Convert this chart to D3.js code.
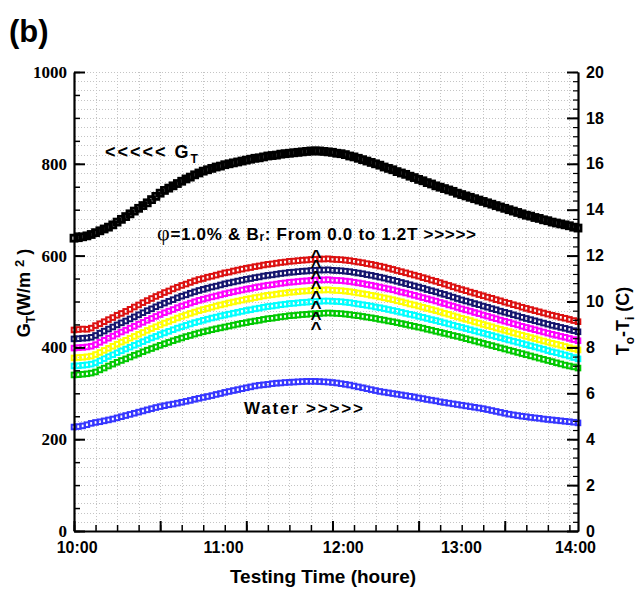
<!DOCTYPE html>
<html>
<head>
<meta charset="utf-8">
<script src="https://cdn.jsdelivr.net/npm/d3@7"></script>
<style>
body { margin: 0; background: #fff; }
</style>
</head>
<body>
<svg width="637" height="596"></svg>
<script>
var svg = d3.select("svg");

// x is the sample number along the test (one sample ~ every 2 min)
var timeLabels = ["10:00", "11:00", "12:00", "13:00", "14:00"];
var timeLabelAt = [0.6, 34.6, 62.4, 89.8, 116.3];

// solar radiation G_T (W/m2), left axis
var gT = [
  638, 639, 641, 643, 646, 650, 654, 658, 662, 667,
  673, 679, 685, 691, 697, 703, 709, 715, 722, 729,
  736, 742, 747, 752, 757, 762, 767, 771, 776, 780,
  784, 787, 790, 793, 795, 798, 800, 802, 804, 806,
  808, 810, 812, 813, 815, 817, 818, 819, 821, 822,
  823, 824, 825, 826, 827, 828, 828, 828, 827, 826,
  825, 823, 822, 820, 817, 815, 812, 809, 806, 803,
  800, 797, 793, 790, 787, 783, 780, 777, 773, 770,
  766, 763, 759, 756, 752, 749, 746, 743, 740, 736,
  733, 730, 727, 724, 721, 718, 715, 712, 709, 706,
  703, 700, 697, 694, 691, 688, 686, 683, 681, 678,
  676, 673, 671, 669, 667, 665, 662, 660
];

// To-Ti (C), right axis
var water = [
  4.53, 4.55, 4.58, 4.63, 4.69, 4.73, 4.76, 4.80, 4.84, 4.88,
  4.93, 4.98, 5.03, 5.08, 5.13, 5.18, 5.23, 5.28, 5.33, 5.38,
  5.42, 5.46, 5.50, 5.53, 5.57, 5.61, 5.65, 5.69, 5.74, 5.78,
  5.82, 5.86, 5.90, 5.95, 5.99, 6.04, 6.08, 6.12, 6.16, 6.20,
  6.24, 6.28, 6.32, 6.35, 6.37, 6.39, 6.42, 6.44, 6.45, 6.47,
  6.48, 6.49, 6.50, 6.51, 6.52, 6.52, 6.52, 6.51, 6.50, 6.49,
  6.47, 6.45, 6.42, 6.39, 6.36, 6.32, 6.28, 6.24, 6.20, 6.16,
  6.12, 6.08, 6.05, 6.02, 5.99, 5.96, 5.93, 5.90, 5.87, 5.84,
  5.80, 5.77, 5.73, 5.70, 5.67, 5.63, 5.60, 5.57, 5.54, 5.51,
  5.48, 5.45, 5.42, 5.39, 5.36, 5.33, 5.29, 5.25, 5.21, 5.17,
  5.13, 5.09, 5.06, 5.03, 5.00, 4.98, 4.95, 4.93, 4.91, 4.88,
  4.86, 4.84, 4.82, 4.80, 4.78, 4.76, 4.74, 4.71
];

var brGreen = [
  6.80, 6.81, 6.83, 6.85, 6.88, 6.93, 7.02, 7.10, 7.19, 7.27,
  7.35, 7.43, 7.50, 7.58, 7.66, 7.73, 7.81, 7.88, 7.95, 8.02,
  8.09, 8.16, 8.22, 8.29, 8.35, 8.41, 8.47, 8.52, 8.58, 8.63,
  8.68, 8.72, 8.77, 8.81, 8.85, 8.89, 8.93, 8.97, 9.01, 9.05,
  9.08, 9.12, 9.15, 9.18, 9.22, 9.25, 9.27, 9.30, 9.33, 9.35,
  9.38, 9.39, 9.41, 9.43, 9.44, 9.46, 9.47, 9.48, 9.49, 9.50,
  9.49, 9.48, 9.47, 9.45, 9.43, 9.40, 9.38, 9.35, 9.32, 9.29,
  9.26, 9.22, 9.19, 9.15, 9.12, 9.08, 9.04, 9.00, 8.96, 8.92,
  8.88, 8.84, 8.79, 8.75, 8.70, 8.66, 8.61, 8.57, 8.52, 8.48,
  8.43, 8.38, 8.33, 8.28, 8.23, 8.18, 8.13, 8.08, 8.03, 7.98,
  7.93, 7.88, 7.83, 7.78, 7.73, 7.68, 7.63, 7.58, 7.53, 7.48,
  7.43, 7.38, 7.33, 7.28, 7.23, 7.19, 7.15, 7.10
];

var brCyan = [
  7.19, 7.20, 7.22, 7.24, 7.27, 7.33, 7.42, 7.51, 7.60, 7.68,
  7.77, 7.85, 7.93, 8.01, 8.09, 8.17, 8.25, 8.33, 8.41, 8.48,
  8.56, 8.63, 8.70, 8.77, 8.84, 8.90, 8.96, 9.02, 9.08, 9.13,
  9.18, 9.23, 9.28, 9.32, 9.37, 9.41, 9.45, 9.49, 9.53, 9.57,
  9.61, 9.64, 9.68, 9.71, 9.75, 9.78, 9.80, 9.83, 9.86, 9.88,
  9.91, 9.92, 9.94, 9.96, 9.97, 9.99, 10.00, 10.01, 10.02, 10.02,
  10.01, 10.00, 9.99, 9.97, 9.95, 9.92, 9.89, 9.86, 9.83, 9.80,
  9.76, 9.73, 9.69, 9.65, 9.61, 9.57, 9.53, 9.48, 9.44, 9.40,
  9.35, 9.31, 9.26, 9.21, 9.17, 9.12, 9.07, 9.02, 8.97, 8.92,
  8.87, 8.82, 8.77, 8.72, 8.67, 8.62, 8.57, 8.52, 8.47, 8.42,
  8.37, 8.32, 8.27, 8.22, 8.17, 8.12, 8.07, 8.02, 7.97, 7.92,
  7.86, 7.81, 7.77, 7.72, 7.67, 7.62, 7.56, 7.50
];

var brYellow = [
  7.54, 7.56, 7.57, 7.59, 7.62, 7.69, 7.78, 7.87, 7.96, 8.05,
  8.14, 8.23, 8.31, 8.40, 8.48, 8.57, 8.65, 8.74, 8.82, 8.90,
  8.98, 9.06, 9.13, 9.20, 9.28, 9.35, 9.41, 9.48, 9.54, 9.60,
  9.65, 9.70, 9.75, 9.80, 9.85, 9.89, 9.94, 9.98, 10.02, 10.06,
  10.10, 10.13, 10.17, 10.20, 10.24, 10.27, 10.29, 10.32, 10.35, 10.37,
  10.40, 10.41, 10.43, 10.45, 10.46, 10.48, 10.49, 10.50, 10.50, 10.51,
  10.49, 10.48, 10.47, 10.45, 10.43, 10.40, 10.37, 10.34, 10.31, 10.27,
  10.24, 10.20, 10.16, 10.12, 10.08, 10.03, 9.99, 9.94, 9.89, 9.85,
  9.80, 9.75, 9.70, 9.65, 9.60, 9.55, 9.49, 9.44, 9.38, 9.33,
  9.27, 9.22, 9.17, 9.11, 9.06, 9.00, 8.95, 8.90, 8.84, 8.79,
  8.74, 8.69, 8.63, 8.58, 8.53, 8.48, 8.43, 8.38, 8.33, 8.28,
  8.23, 8.18, 8.14, 8.09, 8.04, 7.99, 7.94, 7.89
];

var brMagenta = [
  7.97, 7.99, 8.00, 8.02, 8.05, 8.12, 8.22, 8.31, 8.40, 8.49,
  8.58, 8.67, 8.75, 8.84, 8.92, 9.01, 9.09, 9.18, 9.26, 9.35,
  9.43, 9.51, 9.58, 9.65, 9.73, 9.80, 9.86, 9.93, 9.99, 10.05,
  10.10, 10.15, 10.20, 10.24, 10.29, 10.34, 10.38, 10.42, 10.46, 10.50,
  10.54, 10.57, 10.61, 10.64, 10.68, 10.71, 10.73, 10.76, 10.79, 10.81,
  10.84, 10.85, 10.87, 10.89, 10.90, 10.92, 10.93, 10.94, 10.94, 10.95,
  10.93, 10.92, 10.91, 10.89, 10.87, 10.84, 10.81, 10.78, 10.74, 10.71,
  10.67, 10.63, 10.59, 10.55, 10.51, 10.46, 10.41, 10.37, 10.32, 10.27,
  10.22, 10.17, 10.12, 10.07, 10.02, 9.96, 9.91, 9.85, 9.80, 9.74,
  9.68, 9.63, 9.58, 9.52, 9.47, 9.41, 9.36, 9.30, 9.25, 9.19,
  9.14, 9.09, 9.03, 8.98, 8.92, 8.87, 8.82, 8.77, 8.72, 8.67,
  8.62, 8.57, 8.53, 8.48, 8.44, 8.39, 8.34, 8.29
];

var brNavy = [
  8.37, 8.38, 8.40, 8.41, 8.44, 8.52, 8.62, 8.71, 8.80, 8.89,
  8.98, 9.07, 9.15, 9.24, 9.33, 9.42, 9.51, 9.60, 9.68, 9.77,
  9.85, 9.93, 10.01, 10.08, 10.16, 10.23, 10.29, 10.36, 10.42, 10.48,
  10.53, 10.58, 10.63, 10.67, 10.72, 10.77, 10.81, 10.85, 10.89, 10.93,
  10.97, 11.00, 11.04, 11.07, 11.11, 11.14, 11.16, 11.19, 11.22, 11.24,
  11.27, 11.28, 11.30, 11.32, 11.33, 11.35, 11.36, 11.37, 11.37, 11.38,
  11.36, 11.35, 11.34, 11.32, 11.30, 11.27, 11.24, 11.21, 11.17, 11.14,
  11.10, 11.06, 11.02, 10.97, 10.93, 10.88, 10.83, 10.78, 10.73, 10.68,
  10.63, 10.58, 10.52, 10.47, 10.42, 10.36, 10.31, 10.25, 10.19, 10.13,
  10.07, 10.02, 9.97, 9.91, 9.86, 9.80, 9.75, 9.69, 9.64, 9.58,
  9.53, 9.48, 9.42, 9.37, 9.31, 9.26, 9.21, 9.16, 9.11, 9.06,
  9.01, 8.96, 8.92, 8.87, 8.83, 8.78, 8.73, 8.68
];

var brRed = [
  8.76, 8.78, 8.80, 8.79, 8.84, 8.95, 9.03, 9.12, 9.21, 9.30,
  9.40, 9.48, 9.57, 9.66, 9.76, 9.85, 9.95, 10.04, 10.13, 10.22,
  10.30, 10.39, 10.46, 10.55, 10.62, 10.70, 10.76, 10.83, 10.90, 10.96,
  11.00, 11.06, 11.10, 11.15, 11.20, 11.25, 11.28, 11.33, 11.37, 11.41,
  11.45, 11.48, 11.52, 11.55, 11.59, 11.62, 11.64, 11.67, 11.70, 11.72,
  11.75, 11.76, 11.78, 11.80, 11.81, 11.83, 11.84, 11.85, 11.85, 11.86,
  11.84, 11.83, 11.82, 11.80, 11.78, 11.75, 11.72, 11.69, 11.65, 11.62,
  11.58, 11.54, 11.50, 11.45, 11.40, 11.35, 11.30, 11.25, 11.20, 11.15,
  11.10, 11.04, 10.99, 10.93, 10.88, 10.82, 10.76, 10.70, 10.64, 10.58,
  10.52, 10.47, 10.41, 10.36, 10.30, 10.25, 10.19, 10.14, 10.08, 10.03,
  9.97, 9.92, 9.86, 9.81, 9.75, 9.70, 9.65, 9.60, 9.55, 9.50,
  9.45, 9.40, 9.36, 9.31, 9.27, 9.22, 9.17, 9.12
];

// caret stack "^" at ~12:00 (right-axis units of first baseline, step in px)
var caretAt = 56.2;
var caretTop = 11.68;
var caretCount = 8;

var xScale = d3.scaleLinear().domain([0, 117]).range([74, 578]);
var yLeft = d3.scaleLinear().domain([0, 1000]).range([531, 72]);
var yRight = d3.scaleLinear().domain([0, 20]).range([531, 72]);

var sans = "'Liberation Sans', Arial, sans-serif";
var serif = "'Liberation Serif', 'Times New Roman', serif";

// dotted grid
var grid = svg.append("g").attr("stroke", "#c4c4c4").attr("stroke-width", 1)
  .attr("stroke-dasharray", "1,2");
grid.selectAll(".h").data(d3.range(20, 1001, 20)).enter().append("line")
  .attr("x1", 75).attr("x2", 577)
  .attr("y1", function(d) { return Math.round(yLeft(d)) + 0.5; })
  .attr("y2", function(d) { return Math.round(yLeft(d)) + 0.5; });
grid.selectAll(".v").data(d3.range(5, 117, 5)).enter().append("line")
  .attr("y1", 72).attr("y2", 530)
  .attr("x1", function(d) { return Math.round(xScale(d)) + 0.5; })
  .attr("x2", function(d) { return Math.round(xScale(d)) + 0.5; });

// series
function drawSeries(values, yScale, color, size, sw) {
  svg.append("g").selectAll("rect").data(values).enter().append("rect")
    .attr("x", function(d, i) { return xScale(i) - size / 2; })
    .attr("y", function(d) { return yScale(d) - size / 2; })
    .attr("width", size).attr("height", size)
    .attr("fill", "none").attr("stroke", color).attr("stroke-width", sw);
}

drawSeries(water, yRight, "#3636ff", 4.6, 2);
drawSeries(brGreen, yRight, "#00c800", 4.6, 2);
drawSeries(brCyan, yRight, "#00ffff", 4.6, 2);
drawSeries(brYellow, yRight, "#ffff00", 4.6, 2);
drawSeries(brMagenta, yRight, "#ff00ff", 4.6, 2);
drawSeries(brNavy, yRight, "#14146e", 4.6, 2);
drawSeries(brRed, yRight, "#dc1010", 4.6, 2);
drawSeries(gT, yLeft, "#000000", 6, 2.8);

// axes
function styleAxis(g) {
  g.select(".domain").attr("stroke-width", 2.2);
  g.selectAll(".tick line").attr("stroke-width", 2);
}

var leftMinor = svg.append("g").attr("transform", "translate(74,0)")
  .call(d3.axisLeft(yLeft).tickValues(d3.range(0, 1001, 50)).tickSize(-6).tickSizeOuter(0).tickFormat(""));
leftMinor.selectAll(".tick line").attr("stroke-width", 1.5);
var leftAxis = svg.append("g").attr("transform", "translate(74,0)")
  .call(d3.axisLeft(yLeft).tickValues(d3.range(0, 1001, 200)).tickSize(-11).tickSizeOuter(0)
    .tickPadding(7).tickFormat(d3.format("d")));
styleAxis(leftAxis);
leftAxis.attr("font-family", serif);
leftAxis.selectAll("text").style("font-family", serif).style("font-weight", "bold")
  .style("font-size", "17px").attr("fill", "#000");

var rightMinor = svg.append("g").attr("transform", "translate(578,0)")
  .call(d3.axisRight(yRight).tickValues(d3.range(0, 20.01, 0.4)).tickSize(-5).tickSizeOuter(0).tickFormat(""));
rightMinor.selectAll(".tick line").attr("stroke-width", 1.2);
var rightAxis = svg.append("g").attr("transform", "translate(578,0)")
  .call(d3.axisRight(yRight).tickValues(d3.range(0, 21, 2)).tickSize(-11).tickSizeOuter(0).tickPadding(8));
styleAxis(rightAxis);
rightAxis.selectAll("text").style("font-family", sans).style("font-weight", "bold")
  .style("font-size", "16px").attr("fill", "#000");

var bottomMinor = svg.append("g").attr("transform", "translate(0,531)")
  .call(d3.axisBottom(xScale).tickValues(d3.range(0, 117, 5)).tickSize(-6).tickSizeOuter(0).tickFormat(""));
bottomMinor.selectAll(".tick line").attr("stroke-width", 1.5);
var bottomAxis = svg.append("g").attr("transform", "translate(0,531)")
  .call(d3.axisBottom(xScale).tickValues(d3.range(0, 117, 20)).tickSize(-10).tickSizeOuter(0).tickFormat(""));
styleAxis(bottomAxis);
var bottomLabels = svg.append("g").attr("transform", "translate(0,531)")
  .call(d3.axisBottom(xScale).tickValues(timeLabelAt).tickSize(0).tickPadding(11)
    .tickFormat(function(d, i) { return timeLabels[i]; }));
bottomLabels.select(".domain").remove();
bottomLabels.selectAll("text").style("font-family", sans).style("font-weight", "bold")
  .style("font-size", "16px").attr("fill", "#000");

// titles
svg.append("text").attr("x", 323).attr("y", 583).attr("text-anchor", "middle")
  .attr("font-family", sans).attr("font-weight", "bold").attr("font-size", 19)
  .text("Testing Time (houre)");

var lt = svg.append("text").attr("transform", "translate(30,293) rotate(-90)")
  .attr("text-anchor", "middle").attr("font-family", sans).attr("font-weight", "bold")
  .attr("font-size", 18);
lt.append("tspan").text("G");
lt.append("tspan").attr("font-size", 12).attr("dy", 5).text("T");
lt.append("tspan").attr("dy", -5).text("(W/m ");
lt.append("tspan").attr("font-size", 13).attr("dy", -6).text("2");
lt.append("tspan").attr("dy", 6).text(" )");

var rt = svg.append("text").attr("transform", "translate(629,321) rotate(-90)")
  .attr("text-anchor", "middle").attr("font-family", sans).attr("font-weight", "bold")
  .attr("font-size", 18);
rt.append("tspan").text("T");
rt.append("tspan").attr("font-size", 12).attr("dy", 5).text("o");
rt.append("tspan").attr("dy", -5).text("-T");
rt.append("tspan").attr("font-size", 12).attr("dy", 5).text("i");
rt.append("tspan").attr("dy", -5).text(" (C)");

svg.append("text").attr("x", 9).attr("y", 42).attr("font-family", sans)
  .attr("font-weight", "bold").attr("font-size", 31).text("(b)");

// annotations
var a1 = svg.append("text").attr("x", 105).attr("y", 158).attr("font-family", sans)
  .attr("font-weight", "bold").attr("font-size", 18).attr("letter-spacing", 2);
a1.append("tspan").text("<<<<< G");
a1.append("tspan").attr("font-size", 12).attr("dy", 5).text("T");

var a2 = svg.append("text").attr("x", 157).attr("y", 240).attr("font-family", sans)
  .attr("font-weight", "bold").attr("font-size", 17).attr("letter-spacing", 0.7);
a2.append("tspan").attr("font-family", serif).attr("font-weight", "normal")
  .attr("font-size", 22).text("\u03c6");
a2.append("tspan").text("=1.0% & B");
a2.append("tspan").attr("font-size", 12).attr("dy", 1).text("r");
a2.append("tspan").attr("dy", -1).text(": From 0.0 to 1.2T  >>>>>");

var carets = svg.append("text").attr("font-family", sans).attr("font-weight", "bold")
  .attr("font-size", 19).attr("text-anchor", "middle");
carets.selectAll("tspan").data(d3.range(caretCount)).enter().append("tspan")
  .attr("x", xScale(caretAt))
  .attr("y", function(d) { return yRight(caretTop) + d * 10.3; })
  .text("^");

svg.append("text").attr("x", 244).attr("y", 414).attr("font-family", sans)
  .attr("font-weight", "bold").attr("font-size", 17).attr("letter-spacing", 1.8)
  .text("Water >>>>>");
</script>
</body>
</html>
